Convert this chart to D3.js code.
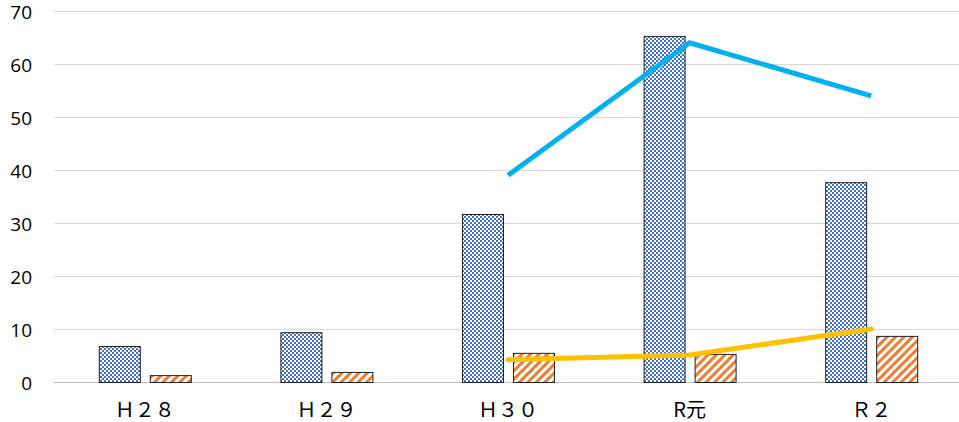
<!DOCTYPE html>
<html>
<head>
<meta charset="utf-8">
<script src="https://cdn.jsdelivr.net/npm/d3@7"></script>
<style>
  body { margin: 0; background: #fff; }
  svg { display: block; }
</style>
</head>
<body>
<div id="chart"></div>
<script>
var categories = ["Ｈ２８", "Ｈ２９", "Ｈ３０", "R元", "Ｒ２"];
var barBlue = [6.8, 9.4, 31.7, 65.3, 37.7];
var barOrange = [1.3, 1.9, 5.5, 5.3, 8.7];
var lineBlue = [null, null, 39, 64, 54];
var lineYellow = [null, null, 4.2, 5.1, 10];
var yTicks = [0, 10, 20, 30, 40, 50, 60, 70];

var W = 959, H = 422;
var svg = d3.select("#chart").append("svg")
    .attr("width", W)
    .attr("height", H);

var defs = svg.append("defs");

// checker pattern for blue bars
var chk = defs.append("pattern")
    .attr("id", "checker")
    .attr("width", 4).attr("height", 4)
    .attr("patternUnits", "userSpaceOnUse");
chk.append("rect").attr("width", 4).attr("height", 4).attr("fill", "#fff");
chk.append("rect").attr("width", 2).attr("height", 2).attr("fill", "#4472C4");
chk.append("rect").attr("x", 2).attr("y", 2).attr("width", 2).attr("height", 2).attr("fill", "#4472C4");

// diagonal stripes for orange bars
var stp = defs.append("pattern")
    .attr("id", "stripes")
    .attr("width", 6).attr("height", 6)
    .attr("patternUnits", "userSpaceOnUse")
    .attr("patternTransform", "rotate(45)");
stp.append("rect").attr("width", 6).attr("height", 6).attr("fill", "#fff");
stp.append("rect").attr("width", 3).attr("height", 6).attr("fill", "#ED7D31");

var x = d3.scaleBand()
    .domain(categories)
    .range([54, 962])
    .padding(0);

var y = d3.scaleLinear()
    .domain([0, 70])
    .range([382, 11]);

// gridlines
svg.append("g")
    .selectAll("line")
    .data(yTicks)
    .join("line")
    .attr("x1", 54)
    .attr("x2", W)
    .attr("y1", function(d){ return y(d) + 0.5; })
    .attr("y2", function(d){ return y(d) + 0.5; })
    .attr("stroke", function(d){ return d === 0 ? "#bfbfbf" : "#d9d9d9"; })
    .attr("stroke-width", 1);

// y tick labels
svg.append("g")
    .selectAll("text")
    .data(yTicks)
    .join("text")
    .attr("x", 32)
    .attr("y", function(d){ return y(d) + 7.5; })
    .attr("text-anchor", "end")
    .style("font-family", "'Open Sans', sans-serif")
    .style("font-size", "19px")
    .attr("fill", "#000")
    .text(function(d){ return d; });

var barW = 41;

// blue bars
svg.append("g")
    .selectAll("rect")
    .data(barBlue)
    .join("rect")
    .attr("x", function(d, i){ return x(categories[i]) + x.bandwidth() / 2 - 5 - barW + 0.5; })
    .attr("y", function(d){ return y(d) + 0.5; })
    .attr("width", barW)
    .attr("height", function(d){ return y(0) - y(d); })
    .attr("fill", "url(#checker)")
    .attr("stroke", "#222")
    .attr("stroke-width", 1);

// orange bars
svg.append("g")
    .selectAll("rect")
    .data(barOrange)
    .join("rect")
    .attr("x", function(d, i){ return x(categories[i]) + x.bandwidth() / 2 + 5 + 0.5; })
    .attr("y", function(d){ return y(d) + 0.5; })
    .attr("width", barW)
    .attr("height", function(d){ return y(0) - y(d); })
    .attr("fill", "url(#stripes)")
    .attr("stroke", "#222")
    .attr("stroke-width", 1);

var line = d3.line()
    .defined(function(d){ return d !== null; })
    .x(function(d, i){ return x(categories[i]) + x.bandwidth() / 2; })
    .y(function(d){ return y(d); });

svg.append("path")
    .datum(lineBlue)
    .attr("d", line)
    .attr("fill", "none")
    .attr("stroke", "#00B0F0")
    .attr("stroke-width", 5);

svg.append("path")
    .datum(lineYellow)
    .attr("d", line)
    .attr("fill", "none")
    .attr("stroke", "#FFC000")
    .attr("stroke-width", 5)
    .attr("stroke-linecap", "round");

// category labels
svg.append("g")
    .selectAll("text")
    .data(categories)
    .join("text")
    .attr("x", function(d){ return x(d) + x.bandwidth() / 2; })
    .attr("y", 417)
    .attr("text-anchor", "middle")
    .style("font-family", "'Noto Sans CJK JP', sans-serif")
    .style("font-size", "20px")
    .attr("fill", "#000")
    .text(function(d){ return d; });
</script>
</body>
</html>
